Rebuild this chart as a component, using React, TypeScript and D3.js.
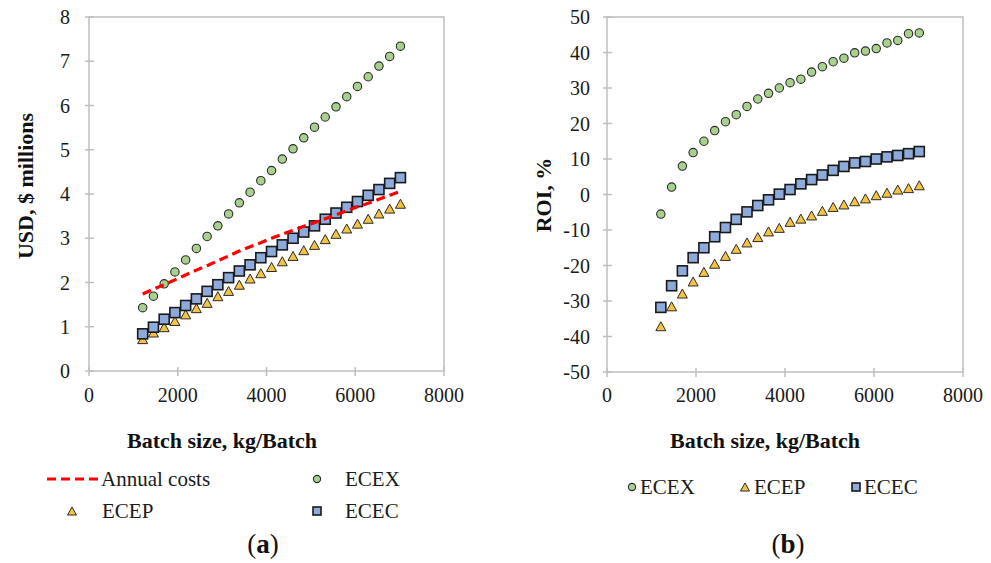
import React from "react";
import * as d3 from "d3";

const batchSizes = [1210, 1452, 1694, 1936, 2178, 2420, 2662, 2904, 3146, 3388, 3630, 3872, 4114, 4356, 4598, 4840, 5082, 5324, 5566, 5808, 6050, 6292, 6534, 6776, 7018];

const usdECEX = [1.43, 1.69, 1.97, 2.24, 2.51, 2.77, 3.04, 3.28, 3.55, 3.80, 4.04, 4.30, 4.53, 4.79, 5.02, 5.27, 5.51, 5.74, 5.97, 6.20, 6.43, 6.65, 6.89, 7.11, 7.34];
const usdECEC = [0.84, 0.99, 1.17, 1.32, 1.48, 1.63, 1.80, 1.95, 2.11, 2.26, 2.40, 2.56, 2.70, 2.85, 3.00, 3.14, 3.28, 3.43, 3.57, 3.70, 3.83, 3.97, 4.10, 4.24, 4.37];
const usdECEP = [0.72, 0.87, 0.99, 1.13, 1.28, 1.42, 1.54, 1.69, 1.81, 1.95, 2.09, 2.21, 2.35, 2.48, 2.60, 2.73, 2.85, 2.98, 3.10, 3.22, 3.33, 3.44, 3.56, 3.67, 3.78];
const annualCosts = [1.74, 1.85, 1.95, 2.06, 2.17, 2.28, 2.38, 2.49, 2.60, 2.71, 2.81, 2.90, 3.00, 3.09, 3.18, 3.27, 3.35, 3.44, 3.53, 3.62, 3.71, 3.79, 3.88, 3.97, 4.06];

const roiECEX = [-5.5, 2.1, 8.0, 11.8, 15.0, 18.0, 20.5, 22.5, 24.8, 26.9, 28.5, 30.0, 31.5, 32.5, 34.5, 36.0, 37.4, 38.4, 39.9, 40.4, 41.1, 42.7, 43.4, 45.3, 45.5];
const roiECEC = [-31.8, -25.7, -21.5, -17.8, -15.0, -11.9, -9.3, -7.0, -4.9, -3.1, -1.5, 0.1, 1.4, 3.0, 4.2, 5.5, 6.8, 7.9, 8.9, 9.3, 10.0, 10.6, 11.0, 11.5, 12.1];
const roiECEP = [-37.1, -31.5, -27.9, -24.5, -21.8, -19.5, -17.3, -15.3, -13.5, -12.0, -10.4, -9.4, -7.7, -6.8, -5.9, -4.6, -3.5, -2.8, -1.9, -1.1, -0.2, 0.5, 1.4, 1.8, 2.6];

const xTicks = [0, 2000, 4000, 6000, 8000];
const usdTicks = [0, 1, 2, 3, 4, 5, 6, 7, 8];
const roiTicks = [-50, -40, -30, -20, -10, 0, 10, 20, 30, 40, 50];

const FONT = "'Liberation Serif', 'Times New Roman', serif";
const GREEN = "#a9d18e";
const BLUE = "#8eaadb";
const GOLD = "#f5c342";
const FRAME = "#bfbfbf";

const Circle = ({ x, y, r = 4.2 }: { x: number; y: number; r?: number }) => (
  <circle cx={x} cy={y} r={r} fill={GREEN} stroke="#2a2a2a" strokeWidth={1.1} />
);
const Square = ({ x, y, s = 10 }: { x: number; y: number; s?: number }) => (
  <rect x={x - s / 2} y={y - s / 2} width={s} height={s} fill={BLUE} stroke="#1a1a1a" strokeWidth={1.6} />
);
const Tri = ({ x, y, s = 10 }: { x: number; y: number; s?: number }) => {
  const h = s * 0.9;
  return (
    <path
      d={`M${x},${y - h / 2} L${x + s / 2},${y + h / 2} L${x - s / 2},${y + h / 2} Z`}
      fill={GOLD}
      stroke="#2a2a2a"
      strokeWidth={1}
      strokeLinejoin="round"
    />
  );
};

export default function App() {
  // Left panel
  const xa = d3.scaleLinear().domain([0, 8000]).range([89, 444]);
  const ya = d3.scaleLinear().domain([0, 8]).range([371, 17]);
  // Right panel
  const xb = d3.scaleLinear().domain([0, 8000]).range([607, 963]);
  const yb = d3.scaleLinear().domain([-50, 50]).range([372, 17]);

  const line = d3
    .line<number>()
    .x((_, i) => xa(batchSizes[i]))
    .y((d) => ya(d));

  const frame = (xs: d3.ScaleLinear<number, number>, ys: d3.ScaleLinear<number, number>) => {
    const [x0, x1] = xs.range();
    const [y0, y1] = ys.range();
    return (
      <rect x={x0} y={y1} width={x1 - x0} height={y0 - y1} fill="none" stroke={FRAME} strokeWidth={1.5} />
    );
  };

  const axes = (
    xs: d3.ScaleLinear<number, number>,
    ys: d3.ScaleLinear<number, number>,
    yt: number[],
    labelRight: number
  ) => {
    const [x0] = xs.range();
    const [yBottom] = ys.range();
    return (
      <g>
        {yt.map((t) => (
          <g key={"y" + t}>
            <line x1={x0 - 4} x2={x0 + 5} y1={ys(t)} y2={ys(t)} stroke={FRAME} strokeWidth={1.5} />
            <text x={labelRight} y={ys(t)} dy="0.35em" textAnchor="end" fontFamily={FONT} fontSize={20} fill="#1a1a1a">
              {t}
            </text>
          </g>
        ))}
        {xTicks.map((t) => (
          <g key={"x" + t}>
            <line x1={xs(t)} x2={xs(t)} y1={yBottom - 4} y2={yBottom + 5} stroke={FRAME} strokeWidth={1.5} />
            <text x={xs(t)} y={402} textAnchor="middle" fontFamily={FONT} fontSize={20} fill="#1a1a1a">
              {t}
            </text>
          </g>
        ))}
      </g>
    );
  };

  return (
    <svg width={991} height={563} style={{ position: "absolute", left: 0, top: 0, background: "#fff" }}>
      <rect width={991} height={563} fill="#fff" />
      {/* Panel a */}
      {frame(xa, ya)}
      {axes(xa, ya, usdTicks, 70)}
      {batchSizes.map((b, i) => (
        <Circle key={"ax" + i} x={xa(b)} y={ya(usdECEX[i])} />
      ))}
      {batchSizes.map((b, i) => (
        <Tri key={"ap" + i} x={xa(b)} y={ya(usdECEP[i])} />
      ))}
      {batchSizes.map((b, i) => (
        <Square key={"ac" + i} x={xa(b)} y={ya(usdECEC[i])} />
      ))}
      <path d={line(annualCosts) || ""} fill="none" stroke="#ff0000" strokeWidth={3.2} strokeDasharray="9,5" />

      <text
        transform={`translate(33,186) rotate(-90)`}
        textAnchor="middle"
        fontFamily={FONT}
        fontWeight="bold"
        fontSize={22}
        fill="#111"
      >
        USD, $ millions
      </text>
      <text x={222} y={448} textAnchor="middle" fontFamily={FONT} fontWeight="bold" fontSize={22} fill="#111">
        Batch size, kg/Batch
      </text>

      {/* Legend a */}
      <line x1={47} x2={98} y1={479} y2={479} stroke="#ff0000" strokeWidth={3.2} strokeDasharray="9,5" />
      <text x={101} y={479} dy="0.35em" fontFamily={FONT} fontSize={21} fill="#1a1a1a">Annual costs</text>
      <Circle x={317} y={479} r={3.6} />
      <text x={345} y={479} dy="0.35em" fontFamily={FONT} fontSize={21} fill="#1a1a1a">ECEX</text>
      <Tri x={72} y={511} s={9} />
      <text x={102} y={511} dy="0.35em" fontFamily={FONT} fontSize={21} fill="#1a1a1a">ECEP</text>
      <Square x={317} y={511} s={8} />
      <text x={345} y={511} dy="0.35em" fontFamily={FONT} fontSize={21} fill="#1a1a1a">ECEC</text>

      <text x={263} y={553} textAnchor="middle" fontFamily={FONT} fontSize={27} fill="#111">
        (<tspan fontWeight="bold">a</tspan>)
      </text>

      {/* Panel b */}
      {frame(xb, yb)}
      {axes(xb, yb, roiTicks, 590)}
      {batchSizes.map((b, i) => (
        <Circle key={"bx" + i} x={xb(b)} y={yb(roiECEX[i])} />
      ))}
      {batchSizes.map((b, i) => (
        <Tri key={"bp" + i} x={xb(b)} y={yb(roiECEP[i])} />
      ))}
      {batchSizes.map((b, i) => (
        <Square key={"bc" + i} x={xb(b)} y={yb(roiECEC[i])} />
      ))}

      <text
        transform={`translate(551,195) rotate(-90)`}
        textAnchor="middle"
        fontFamily={FONT}
        fontWeight="bold"
        fontSize={22}
        fill="#111"
      >
        ROI, %
      </text>
      <text x={765} y={448} textAnchor="middle" fontFamily={FONT} fontWeight="bold" fontSize={22} fill="#111">
        Batch size, kg/Batch
      </text>

      {/* Legend b */}
      <Circle x={632} y={487} r={3.6} />
      <text x={640} y={487} dy="0.35em" fontFamily={FONT} fontSize={21} fill="#1a1a1a">ECEX</text>
      <Tri x={745} y={487} s={9} />
      <text x={754} y={487} dy="0.35em" fontFamily={FONT} fontSize={21} fill="#1a1a1a">ECEP</text>
      <Square x={856} y={487} s={8} />
      <text x={864} y={487} dy="0.35em" fontFamily={FONT} fontSize={21} fill="#1a1a1a">ECEC</text>

      <text x={788} y={553} textAnchor="middle" fontFamily={FONT} fontSize={27} fill="#111">
        (<tspan fontWeight="bold">b</tspan>)
      </text>
    </svg>
  );
}
